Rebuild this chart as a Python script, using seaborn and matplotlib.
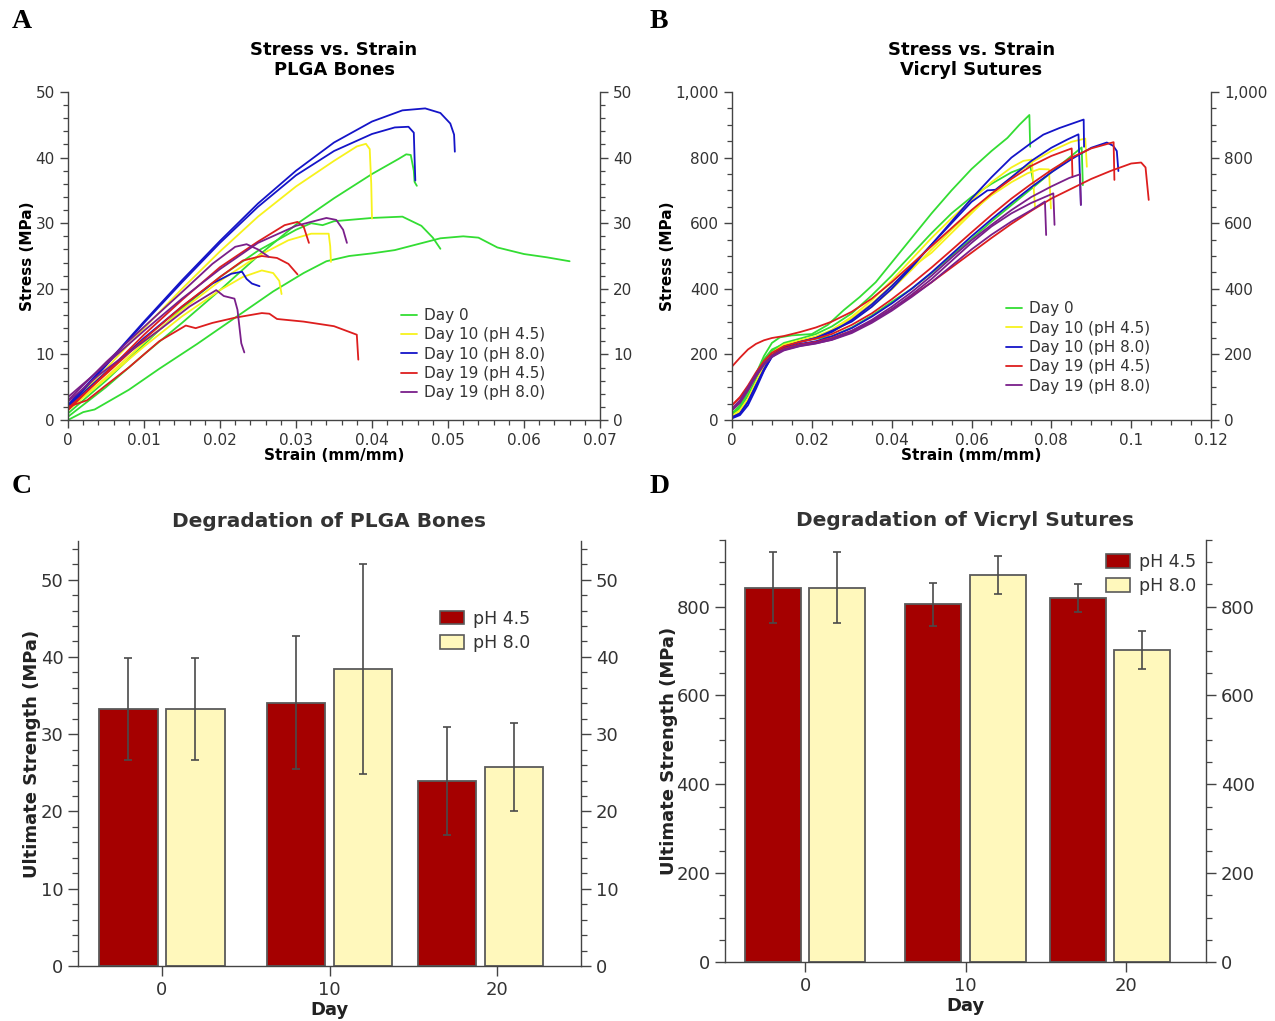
import numpy as np
import pandas as pd
import matplotlib
matplotlib.use("Agg")
import matplotlib.pyplot as plt
from matplotlib.ticker import MultipleLocator, FuncFormatter
from matplotlib.patches import Patch
import seaborn as sns

# ---------------- data ----------------
group_labels = ["Day 0", "Day 10 (pH 4.5)", "Day 10 (pH 8.0)", "Day 19 (pH 4.5)", "Day 19 (pH 8.0)"]
group_colors = ["#33dd33", "#f7f21c", "#1414c8", "#dd1e1e", "#7a1f8a"]

# Panel A: PLGA bones, (strain, stress MPa)
plga_day0 = [
    [(0, 0.5), (0.005, 5.0), (0.01, 10.0), (0.015, 14.8), (0.02, 19.8), (0.025, 25.0), (0.03, 29.8),
     (0.035, 33.8), (0.04, 37.5), (0.0435, 39.8), (0.0445, 40.5), (0.0451, 40.4), (0.0455, 38.0),
     (0.0456, 36.3), (0.0459, 35.7)],
    [(0, 1.0), (0.005, 6.0), (0.01, 11.5), (0.015, 17.0), (0.02, 21.8), (0.025, 25.8), (0.03, 29.0),
     (0.032, 30.0), (0.0335, 29.7), (0.035, 30.3), (0.04, 30.8), (0.044, 31.0), (0.0465, 29.6),
     (0.048, 27.8), (0.049, 26.1)],
    [(0, 0.0), (0.002, 1.2), (0.0035, 1.6), (0.005, 2.6), (0.008, 4.6), (0.012, 7.8), (0.017, 11.6),
     (0.022, 15.6), (0.027, 19.6), (0.031, 22.4), (0.034, 24.2), (0.037, 25.0), (0.04, 25.4),
     (0.043, 25.9), (0.046, 26.8), (0.049, 27.7), (0.052, 28.0), (0.054, 27.8), (0.0565, 26.3),
     (0.06, 25.3), (0.063, 24.8), (0.066, 24.2)],
]
plga_day10_ph45 = [
    [(0, 2.0), (0.005, 7.8), (0.01, 14.0), (0.015, 20.0), (0.02, 25.7), (0.025, 31.0), (0.03, 35.6),
     (0.035, 39.5), (0.038, 41.7), (0.0392, 42.1), (0.0397, 41.3), (0.0399, 36.0), (0.04, 30.7)],
    [(0, 1.5), (0.005, 6.5), (0.01, 11.8), (0.015, 16.8), (0.02, 21.2), (0.025, 25.0), (0.029, 27.4),
     (0.032, 28.4), (0.0343, 28.4), (0.0345, 26.5), (0.0346, 24.1)],
    [(0, 1.5), (0.005, 6.3), (0.01, 11.2), (0.015, 15.8), (0.02, 19.8), (0.023, 21.8), (0.0255, 22.8),
     (0.027, 22.4), (0.0278, 21.2), (0.0281, 19.2)],
]
plga_day10_ph80 = [
    [(0, 2.3), (0.005, 8.5), (0.01, 15.0), (0.015, 21.3), (0.02, 27.3), (0.025, 33.0), (0.03, 38.0),
     (0.035, 42.3), (0.04, 45.5), (0.044, 47.2), (0.047, 47.5), (0.049, 46.8), (0.0503, 45.2),
     (0.0508, 43.5), (0.0509, 40.9)],
    [(0, 2.0), (0.005, 8.3), (0.01, 14.8), (0.015, 21.0), (0.02, 27.0), (0.025, 32.5), (0.03, 37.3),
     (0.035, 41.0), (0.04, 43.6), (0.043, 44.6), (0.0448, 44.7), (0.0455, 43.8), (0.0456, 40.0),
     (0.0457, 36.5)],
    [(0, 2.0), (0.005, 7.3), (0.01, 12.5), (0.015, 17.3), (0.019, 20.8), (0.0215, 22.3), (0.0229, 22.6),
     (0.0235, 21.5), (0.0242, 20.8), (0.0252, 20.4)],
]
plga_day19_ph45 = [
    [(0, 1.5), (0.005, 7.2), (0.01, 13.0), (0.015, 18.3), (0.02, 23.3), (0.025, 27.2), (0.0285, 29.7),
     (0.0302, 30.2), (0.031, 29.5), (0.0317, 27.0)],
    [(0, 1.8), (0.005, 7.0), (0.01, 12.3), (0.015, 17.3), (0.02, 21.8), (0.023, 24.3), (0.0255, 25.0),
     (0.0275, 24.7), (0.029, 23.8), (0.0302, 22.2)],
    [(0, 2.0), (0.0025, 3.0), (0.005, 5.3), (0.008, 8.0), (0.012, 12.0), (0.0155, 14.4), (0.0168, 14.0),
     (0.019, 14.8), (0.022, 15.6), (0.0255, 16.3), (0.0265, 16.2), (0.0275, 15.4), (0.031, 15.0),
     (0.035, 14.3), (0.038, 13.0), (0.0382, 9.2)],
]
plga_day19_ph80 = [
    [(0, 3.5), (0.005, 8.5), (0.01, 13.6), (0.015, 18.5), (0.02, 23.0), (0.025, 27.0), (0.03, 29.6),
     (0.034, 30.8), (0.0353, 30.5), (0.0362, 29.0), (0.0367, 27.0)],
    [(0, 3.0), (0.005, 8.8), (0.01, 14.2), (0.015, 19.5), (0.019, 23.8), (0.022, 26.4), (0.0235, 26.8),
     (0.025, 26.0), (0.0264, 24.9)],
    [(0, 2.8), (0.004, 6.8), (0.008, 10.3), (0.012, 13.7), (0.016, 17.3), (0.0195, 19.8), (0.0205, 18.9),
     (0.0219, 18.5), (0.0223, 16.8), (0.0228, 11.7), (0.0232, 10.3)],
]

# Panel B: Vicryl sutures, (strain, stress MPa)
vicryl_day0 = [
    [(0, 15), (0.002, 40), (0.004, 85), (0.006, 140), (0.008, 195), (0.01, 235), (0.012, 252), (0.015, 258),
     (0.02, 262), (0.024, 290), (0.028, 335), (0.032, 375), (0.036, 420), (0.04, 480), (0.045, 555),
     (0.05, 630), (0.055, 700), (0.06, 765), (0.065, 820), (0.069, 860), (0.072, 900), (0.0745, 930),
     (0.0747, 833)],
    [(0, 15), (0.002, 35), (0.004, 75), (0.006, 125), (0.008, 175), (0.01, 210), (0.013, 235), (0.017, 248),
     (0.021, 262), (0.025, 285), (0.03, 325), (0.035, 380), (0.04, 440), (0.045, 505), (0.05, 570),
     (0.055, 630), (0.06, 680), (0.065, 720), (0.07, 755), (0.0747, 777), (0.0757, 711)],
    [(0, 20), (0.002, 45), (0.004, 90), (0.006, 140), (0.008, 185), (0.01, 215), (0.013, 232), (0.017, 240),
     (0.021, 248), (0.025, 255), (0.03, 282), (0.035, 318), (0.04, 360), (0.045, 400), (0.05, 448),
     (0.055, 500), (0.06, 552), (0.065, 605), (0.07, 655), (0.075, 705), (0.08, 755), (0.085, 805),
     (0.0876, 831), (0.0879, 716)],
]
vicryl_day10_ph45 = [
    [(0, 10), (0.002, 25), (0.004, 60), (0.006, 110), (0.008, 160), (0.01, 200), (0.013, 225), (0.017, 240),
     (0.021, 252), (0.025, 272), (0.03, 310), (0.035, 355), (0.04, 410), (0.045, 465), (0.05, 510),
     (0.055, 570), (0.06, 630), (0.065, 690), (0.07, 740), (0.075, 785), (0.08, 820), (0.085, 848),
     (0.0885, 858), (0.0889, 772)],
    [(0, 12), (0.002, 30), (0.004, 65), (0.006, 115), (0.008, 165), (0.01, 205), (0.013, 230), (0.017, 243),
     (0.021, 255), (0.025, 275), (0.03, 315), (0.035, 365), (0.04, 425), (0.045, 490), (0.05, 555),
     (0.055, 615), (0.06, 670), (0.065, 725), (0.07, 770), (0.073, 790), (0.0751, 794), (0.0759, 650)],
    [(0, 12), (0.002, 28), (0.004, 60), (0.006, 108), (0.008, 158), (0.01, 198), (0.013, 225), (0.017, 240),
     (0.021, 250), (0.025, 268), (0.03, 302), (0.035, 345), (0.04, 398), (0.045, 458), (0.05, 520),
     (0.055, 580), (0.06, 635), (0.065, 685), (0.07, 725), (0.074, 752), (0.077, 765), (0.0794, 764),
     (0.0799, 645)],
]
vicryl_day10_ph80 = [
    [(0, 5), (0.002, 15), (0.004, 45), (0.006, 95), (0.008, 150), (0.01, 195), (0.013, 222), (0.017, 238),
     (0.021, 250), (0.025, 272), (0.03, 300), (0.035, 345), (0.04, 400), (0.045, 465), (0.05, 535),
     (0.055, 605), (0.06, 675), (0.065, 740), (0.07, 800), (0.075, 845), (0.078, 870), (0.082, 890),
     (0.0881, 916), (0.0882, 833)],
    [(0, 8), (0.002, 20), (0.004, 55), (0.006, 105), (0.008, 155), (0.01, 198), (0.013, 224), (0.017, 238),
     (0.021, 250), (0.025, 268), (0.03, 305), (0.035, 352), (0.04, 408), (0.045, 470), (0.05, 535),
     (0.055, 600), (0.06, 665), (0.064, 700), (0.066, 702), (0.07, 740), (0.075, 790), (0.08, 830),
     (0.084, 855), (0.0868, 871), (0.0874, 656)],
    [(0, 8), (0.002, 20), (0.004, 55), (0.006, 105), (0.008, 152), (0.01, 192), (0.013, 218), (0.017, 232),
     (0.021, 240), (0.025, 255), (0.03, 280), (0.035, 315), (0.04, 355), (0.045, 400), (0.05, 450),
     (0.055, 505), (0.06, 560), (0.065, 612), (0.07, 662), (0.075, 710), (0.08, 755), (0.085, 795),
     (0.09, 830), (0.0939, 846), (0.0955, 836), (0.0964, 820), (0.0968, 759)],
]
vicryl_day19_ph45 = [
    [(0, 163), (0.002, 190), (0.004, 215), (0.006, 232), (0.008, 243), (0.01, 250), (0.013, 256),
     (0.017, 268), (0.021, 282), (0.025, 300), (0.03, 330), (0.035, 370), (0.04, 420), (0.045, 475),
     (0.05, 530), (0.055, 585), (0.06, 640), (0.065, 690), (0.07, 735), (0.075, 775), (0.08, 805),
     (0.0851, 828), (0.0853, 741)],
    [(0, 45), (0.002, 70), (0.004, 105), (0.006, 145), (0.008, 180), (0.01, 205), (0.013, 225), (0.017, 238),
     (0.021, 248), (0.025, 262), (0.03, 290), (0.035, 325), (0.04, 368), (0.045, 415), (0.05, 465),
     (0.055, 518), (0.06, 572), (0.065, 625), (0.07, 675), (0.075, 720), (0.08, 762), (0.085, 800),
     (0.09, 828), (0.0956, 847), (0.0958, 732)],
    [(0, 45), (0.002, 68), (0.004, 100), (0.006, 138), (0.008, 172), (0.01, 198), (0.013, 218), (0.017, 230),
     (0.021, 238), (0.025, 250), (0.03, 272), (0.035, 302), (0.04, 338), (0.045, 378), (0.05, 420),
     (0.055, 465), (0.06, 510), (0.065, 555), (0.07, 598), (0.075, 638), (0.08, 675), (0.085, 705),
     (0.09, 735), (0.095, 760), (0.1, 782), (0.1025, 785), (0.1036, 770), (0.104, 720), (0.1044, 671)],
]
vicryl_day19_ph80 = [
    [(0, 30), (0.002, 55), (0.004, 95), (0.006, 135), (0.008, 170), (0.01, 195), (0.013, 215), (0.017, 228),
     (0.021, 236), (0.025, 248), (0.03, 272), (0.035, 305), (0.04, 345), (0.045, 390), (0.05, 440),
     (0.055, 495), (0.06, 548), (0.065, 595), (0.07, 640), (0.075, 680), (0.08, 712), (0.0845, 738),
     (0.0872, 749), (0.0874, 656)],
    [(0, 30), (0.002, 52), (0.004, 90), (0.006, 132), (0.008, 168), (0.01, 192), (0.013, 212), (0.017, 225),
     (0.021, 233), (0.025, 245), (0.03, 268), (0.035, 300), (0.04, 338), (0.045, 382), (0.05, 430),
     (0.055, 485), (0.06, 540), (0.065, 590), (0.07, 630), (0.075, 662), (0.0805, 691), (0.0808, 595)],
    [(0, 35), (0.002, 60), (0.004, 100), (0.006, 140), (0.008, 172), (0.01, 196), (0.013, 214), (0.017, 226),
     (0.021, 234), (0.025, 244), (0.03, 265), (0.035, 296), (0.04, 333), (0.045, 375), (0.05, 420),
     (0.055, 470), (0.06, 520), (0.065, 565), (0.07, 605), (0.075, 640), (0.0784, 666), (0.0787, 564)],
]

# Panels C, D: ultimate strength bars
days = [0, 10, 19]
ph_labels = ["pH 4.5", "pH 8.0"]
bar_colors = ["#a50000", "#fff8bc"]
plga_ph45 = [33.3, 34.1, 23.9]
plga_ph45_err = [6.6, 8.6, 7.0]
plga_ph80 = [33.3, 38.4, 25.8]
plga_ph80_err = [6.6, 13.6, 5.7]
vicryl_ph45 = [843, 805, 820]
vicryl_ph45_err = [80, 48, 32]
vicryl_ph80 = [843, 871, 703]
vicryl_ph80_err = [80, 43, 43]

# ---------------- style ----------------
sns.set_theme(style="ticks")
plt.rcParams["font.family"] = ["DejaVu Sans"]
TXT = "#333333"
SPINE = "#444444"

fig = plt.figure(figsize=(12.75, 10.21), dpi=100)
W, H = 1275, 1021


def axes_px(l, t, r, b):
    return fig.add_axes([l / W, 1 - b / H, (r - l) / W, (b - t) / H])


def style_axes(ax, fs, major_len=6, minor_len=3.5):
    for s in ["left", "right", "bottom"]:
        ax.spines[s].set_color(SPINE)
        ax.spines[s].set_linewidth(1.0)
    ax.spines["top"].set_visible(False)
    ax.tick_params(which="both", direction="out", colors=SPINE, labelcolor=TXT,
                   left=True, right=True, labelleft=True, labelright=True, top=False, labelsize=fs)
    ax.tick_params(which="major", length=major_len, width=1.0)
    ax.tick_params(which="minor", length=minor_len, width=0.9)
    ax.set_facecolor("white")


def curves_frame(groups):
    rows = []
    for g, curves in zip(group_labels, groups):
        for k, c in enumerate(curves):
            for sx, sy in c:
                rows.append({"Group": g, "Curve": f"{g} #{k}", "Strain": sx, "Stress": sy})
    return pd.DataFrame(rows)


palette = dict(zip(group_labels, group_colors))

# ---------- Panel A ----------
axA = axes_px(68, 92, 600, 420)
dfA = curves_frame([plga_day0, plga_day10_ph45, plga_day10_ph80, plga_day19_ph45, plga_day19_ph80])
sns.lineplot(data=dfA, x="Strain", y="Stress", hue="Group", hue_order=group_labels, units="Curve",
             estimator=None, sort=False, palette=palette, linewidth=1.3, ax=axA)
axA.set_xlim(0, 0.07)
axA.set_ylim(0, 50)
axA.xaxis.set_major_locator(MultipleLocator(0.01))
axA.xaxis.set_minor_locator(MultipleLocator(0.002))
axA.yaxis.set_major_locator(MultipleLocator(10))
axA.yaxis.set_minor_locator(MultipleLocator(2))
axA.xaxis.set_major_formatter(FuncFormatter(lambda v, p: f"{v:g}"))
style_axes(axA, 11)
axA.set_xlabel("Strain (mm/mm)", fontsize=11, fontweight="bold", color="black", labelpad=0)
axA.set_ylabel("Stress (MPa)", fontsize=11, fontweight="bold", color="black", labelpad=0)
axA.set_title("Stress vs. Strain\nPLGA Bones", fontsize=13, fontweight="bold", color="black",
              pad=12, linespacing=1.2)
sns.move_legend(axA, "upper left", bbox_to_anchor=(0.615, 0.36), frameon=False, title=None,
                fontsize=11, handlelength=1.0, handletextpad=0.5, labelspacing=0.28, borderaxespad=0)
for t in axA.get_legend().get_texts():
    t.set_color(TXT)

# ---------- Panel B ----------
axB = axes_px(732, 92, 1211, 420)
dfB = curves_frame([vicryl_day0, vicryl_day10_ph45, vicryl_day10_ph80, vicryl_day19_ph45, vicryl_day19_ph80])
sns.lineplot(data=dfB, x="Strain", y="Stress", hue="Group", hue_order=group_labels, units="Curve",
             estimator=None, sort=False, palette=palette, linewidth=1.3, ax=axB)
axB.set_xlim(0, 0.12)
axB.set_ylim(0, 1000)
axB.xaxis.set_major_locator(MultipleLocator(0.02))
axB.xaxis.set_minor_locator(MultipleLocator(0.005))
axB.yaxis.set_major_locator(MultipleLocator(200))
axB.yaxis.set_minor_locator(MultipleLocator(50))
axB.xaxis.set_major_formatter(FuncFormatter(lambda v, p: f"{v:g}"))
axB.yaxis.set_major_formatter(FuncFormatter(lambda v, p: f"{v:,.0f}"))
style_axes(axB, 11)
axB.set_xlabel("Strain (mm/mm)", fontsize=11, fontweight="bold", color="black", labelpad=0)
axB.set_ylabel("Stress (MPa)", fontsize=11, fontweight="bold", color="black", labelpad=0)
axB.set_title("Stress vs. Strain\nVicryl Sutures", fontsize=13, fontweight="bold", color="black",
              pad=12, linespacing=1.2)
sns.move_legend(axB, "upper left", bbox_to_anchor=(0.56, 0.38), frameon=False, title=None,
                fontsize=11, handlelength=1.0, handletextpad=0.5, labelspacing=0.28, borderaxespad=0)
for t in axB.get_legend().get_texts():
    t.set_color(TXT)


# ---------- Bars ----------
def bar_panel(ax, v45, e45, v80, e80, ylim, major, minor, title, leg_anchor, ypad):
    df = pd.DataFrame({
        "Day": days + days,
        "pH": [ph_labels[0]] * len(days) + [ph_labels[1]] * len(days),
        "Strength": v45 + v80,
    })
    errs = {ph_labels[0]: e45, ph_labels[1]: e80}
    sns.barplot(data=df, x="Day", y="Strength", hue="pH", hue_order=ph_labels, native_scale=True,
                width=8 / 9, gap=0.125, palette=dict(zip(ph_labels, bar_colors)), edgecolor="#5a5a5a",
                linewidth=1.3, errorbar=None, legend=False, saturation=1, ax=ax)
    # error bars placed at the bars seaborn drew
    day_arr = np.array(days)
    for p in ax.patches:
        cx = p.get_x() + p.get_width() / 2
        i = int(np.argmin(np.abs(day_arr - cx)))
        ph = ph_labels[0] if cx < day_arr[i] else ph_labels[1]
        ax.errorbar(cx, p.get_height(), yerr=errs[ph][i], fmt="none", ecolor="#4a4a4a",
                    elinewidth=1.2, capsize=3, capthick=1.2, zorder=5)
    ax.set_xlim(-5, 25)
    ax.set_ylim(*ylim)
    ax.set_xticks([0, 10, 20])
    ax.yaxis.set_major_locator(MultipleLocator(major))
    ax.yaxis.set_minor_locator(MultipleLocator(minor))
    style_axes(ax, 13, major_len=7, minor_len=4)
    ax.tick_params(axis="x", which="both", right=False)
    ax.set_xlabel("Day", fontsize=13, fontweight="bold", color="#222222", labelpad=2)
    ax.set_ylabel("Ultimate Strength (MPa)", fontsize=13, fontweight="bold", color="#222222", labelpad=ypad)
    ax.set_title(title, fontsize=14.5, fontweight="bold", color="#333333", pad=10)
    handles = [Patch(facecolor=c, edgecolor="#5a5a5a", linewidth=1.2) for c in bar_colors]
    leg = ax.legend(handles, ph_labels, loc="upper left", bbox_to_anchor=leg_anchor, frameon=False,
                    fontsize=12.5, handlelength=1.4, handleheight=0.85, handletextpad=0.5,
                    labelspacing=0.35, borderaxespad=0)
    for t in leg.get_texts():
        t.set_color(TXT)


axC = axes_px(78, 541, 581, 966)
bar_panel(axC, plga_ph45, plga_ph45_err, plga_ph80, plga_ph80_err, (0, 55), 10, 2,
          "Degradation of PLGA Bones", (0.705, 0.855), 0)

axD = axes_px(725, 540, 1206, 962)
bar_panel(axD, vicryl_ph45, vicryl_ph45_err, vicryl_ph80, vicryl_ph80_err, (0, 950), 200, 50,
          "Degradation of Vicryl Sutures", (0.778, 0.985), -1)

# ---------- panel letters ----------
for letter, (x, y) in zip("ABCD", [(12, 21), (650, 21), (12, 486), (650, 486)]):
    fig.text(x / W, 1 - y / H, letter, fontsize=20, fontweight="bold", va="center", ha="left",
             family=["Liberation Serif", "DejaVu Serif"], color="black")

fig.savefig("out.png", dpi=100, facecolor="white")
